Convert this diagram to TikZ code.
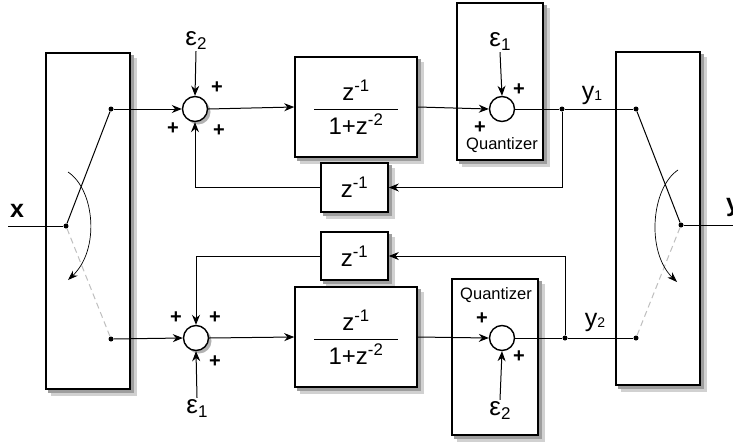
\documentclass[tikz,border=0pt]{standalone}
\usepackage{fontspec}
\setmainfont{Liberation Sans}
\usetikzlibrary{positioning, arrows.meta, calc, backgrounds}

\newcommand{\epsl}[1]{\fontsize{26}{26}\selectfont ε\raisebox{-4pt}{\fontsize{17}{17}\selectfont #1}}
\newcommand{\ysub}[1]{\fontsize{25}{25}\selectfont y\raisebox{-1pt}{\fontsize{14}{14}\selectfont #1}}

\tikzset{
  blockbox/.style={
    draw, line width=1.6pt, fill=white, inner sep=0pt
  },
  sumnode/.style={
    circle, draw, line width=1.4pt, fill=white,
    minimum size=25pt, inner sep=0pt
  },
  contact/.style={circle, fill, inner sep=0pt, minimum size=5pt},
  signal/.style={line width=1pt, -{Stealth[length=10pt, width=8pt]}},
  wire/.style={line width=1pt},
  offline/.style={line width=1pt, draw=black!25, dash pattern=on 6pt off 4pt},
  turn/.style={line width=0.7pt, -{Stealth[length=10pt, width=7pt]}},
  signlabel/.style={font=\fontsize{20}{20}\selectfont\bfseries, inner sep=0pt},
  ztext/.style={font=\fontsize{24}{28}\selectfont, align=center},
  qlabel/.style={font=\fontsize{16.5}{17}\selectfont, inner sep=0pt},
  eps/.style={inner sep=1pt},
}

\begin{document}
\begin{tikzpicture}[x=1pt, y=-1pt]
\useasboundingbox (0,0) rectangle (733,442);

% ---- switch boxes ----
\node[blockbox, minimum width=84pt, minimum height=336pt] (swL) at (88,221) {};
\node[blockbox, minimum width=84pt, minimum height=333pt] (swR) at (658,218.5) {};

% ---- quantizers ----
\node[blockbox, minimum width=86pt, minimum height=157pt] (Q1) at (500,81.5) {};
\node[blockbox, minimum width=86pt, minimum height=156pt] (Q2) at (495,357) {};

% ---- filters ----
\node[blockbox, ztext, minimum width=122pt, minimum height=100pt] (H1) at (356,107)
  {z\textsuperscript{-1}\\[-18.5pt]\rule{84pt}{1pt}\\[-3pt]1+z\textsuperscript{-2}};
\node[blockbox, ztext, minimum width=122pt, minimum height=100pt] (H2) at (356,337)
  {z\textsuperscript{-1}\\[-18.5pt]\rule{84pt}{1pt}\\[-3pt]1+z\textsuperscript{-2}};

% ---- delays ----
\node[blockbox, ztext, minimum width=67pt, minimum height=49pt] (D1) at (354.5,187.5) {z\textsuperscript{-1}};
\node[blockbox, ztext, minimum width=67pt, minimum height=48pt] (D2) at (354.5,256) {z\textsuperscript{-1}};

% ---- summers ----
\node[sumnode] (S1) at (195,109) {};
\node[sumnode] (S2) at (196,338) {};
\node[sumnode] (C1) at (502,109) {};
\node[sumnode] (C2) at (502,338) {};

\node[qlabel] (q1lbl) at (502,145) {Quantizer};
\node[qlabel] (q2lbl) at (496,295) {Quantizer};

% ---- contacts ----
\node[contact] (pL)  at (66,226) {};
\node[contact] (aL1) at (111,109) {};
\node[contact] (aL2) at (111,339) {};
\node[contact] (jn1) at (562,109) {};
\node[contact] (jn2) at (565,338) {};
\node[contact] (pR)  at (681,225) {};
\node[contact] (bR1) at (636,109) {};
\node[contact] (bR2) at (636,338) {};
\coordinate (xin)  at (8,226);
\coordinate (yout) at (740,225);

% ---- labels ----
\node[font=\fontsize{25}{25}\selectfont\bfseries, inner sep=0pt] (xlbl) at (17,211) {x};
\node[font=\fontsize{25}{25}\selectfont\bfseries, inner sep=0pt, anchor=west] (ylbl) at (726,207) {y};
\node[inner sep=0pt] (y1lbl) at (592,95) {\ysub{1}};
\node[inner sep=0pt] (y2lbl) at (595,322) {\ysub{2}};

\node[eps] (e2t) at (196,41) {\epsl{2}};
\node[eps] (e1t) at (500,42) {\epsl{1}};
\node[eps] (e1b) at (197,408) {\epsl{1}};
\node[eps] (e2b) at (500,410) {\epsl{2}};

\node[signlabel] (pS1a) at (217,88) {+};
\node[signlabel] (pS1b) at (173,129) {+};
\node[signlabel] (pS1c) at (219,131) {+};
\node[signlabel] (pC1a) at (519,90) {+};
\node[signlabel] (pC1b) at (480,128) {+};
\node[signlabel] (pS2a) at (176,318) {+};
\node[signlabel] (pS2b) at (215,318) {+};
\node[signlabel] (pS2c) at (215,362) {+};
\node[signlabel] (pC2a) at (482,319) {+};
\node[signlabel] (pC2b) at (519,357) {+};

% ---- left switch ----
\draw[wire] (xin) -- (pL);
\draw[wire] (pL) -- (aL1);
\draw[offline] (pL) -- (aL2);
\coordinate (tL0) at (68,172);
\coordinate (tL1) at (68,280);
\draw[turn] (tL0) .. controls (95,190) and (100,250) .. (tL1);

% ---- upper branch ----
\draw[signal] (aL1) -- (S1.west);
\draw[signal] (e2t.south) -- (S1.north);
\draw[signal] (S1.east) -- (H1.west);
\draw[signal] (H1.east) -- (C1.west);
\draw[signal] (e1t.south) -- (C1.north);
\draw[wire] (C1.east) -- (jn1) -- (bR1);
\draw[signal] (jn1) |- (D1.east);
\draw[signal] (D1.west) -| (S1.south);

% ---- lower branch ----
\draw[signal] (aL2) -- (S2.west);
\draw[signal] (e1b.north) -- (S2.south);
\draw[signal] (S2.east) -- (H2.west);
\draw[signal] (H2.east) -- (C2.west);
\draw[signal] (e2b.north) -- (C2.south);
\draw[wire] (C2.east) -- (jn2) -- (bR2);
\draw[signal] (jn2) |- (D2.east);
\draw[signal] (D2.west) -| (S2.north);

% ---- right switch ----
\draw[wire] (bR1) -- (pR);
\draw[offline] (pR) -- (bR2);
\draw[wire] (pR) -- (yout);
\coordinate (tR0) at (678,170);
\coordinate (tR1) at (677,282);
\draw[turn] (tR0) .. controls (651,188) and (646,252) .. (tR1);

% ---- shadows ----
\begin{pgfonlayer}{background}
  \fill[black!18] ($(swL.south west)+(6,6)$) rectangle ($(swL.north east)+(6,6)$);
  \fill[black!18] ($(swR.south west)+(6,6)$) rectangle ($(swR.north east)+(6,6)$);
  \fill[black!18] ($(Q1.south west)+(6,6)$) rectangle ($(Q1.north east)+(6,6)$);
  \fill[black!18] ($(Q2.south west)+(6,6)$) rectangle ($(Q2.north east)+(6,6)$);
  \fill[black!18] ($(H1.south west)+(6,6)$) rectangle ($(H1.north east)+(6,6)$);
  \fill[black!18] ($(H2.south west)+(6,6)$) rectangle ($(H2.north east)+(6,6)$);
  \fill[black!18] ($(D1.south west)+(6,6)$) rectangle ($(D1.north east)+(6,6)$);
  \fill[black!18] ($(D2.south west)+(6,6)$) rectangle ($(D2.north east)+(6,6)$);
  \fill[black!38] ($(swL.south west)+(3,3)$) rectangle ($(swL.north east)+(3,3)$);
  \fill[black!38] ($(swR.south west)+(3,3)$) rectangle ($(swR.north east)+(3,3)$);
  \fill[black!38] ($(Q1.south west)+(3,3)$) rectangle ($(Q1.north east)+(3,3)$);
  \fill[black!38] ($(Q2.south west)+(3,3)$) rectangle ($(Q2.north east)+(3,3)$);
  \fill[black!38] ($(H1.south west)+(3,3)$) rectangle ($(H1.north east)+(3,3)$);
  \fill[black!38] ($(H2.south west)+(3,3)$) rectangle ($(H2.north east)+(3,3)$);
  \fill[black!38] ($(D1.south west)+(3,3)$) rectangle ($(D1.north east)+(3,3)$);
  \fill[black!38] ($(D2.south west)+(3,3)$) rectangle ($(D2.north east)+(3,3)$);
  \fill[black!30] ($(S1.center)+(3,3)$) circle (12.5pt);
  \fill[black!30] ($(S2.center)+(3,3)$) circle (12.5pt);
  \fill[black!30] ($(C1.center)+(3,3)$) circle (12.5pt);
  \fill[black!30] ($(C2.center)+(3,3)$) circle (12.5pt);
\end{pgfonlayer}

\end{tikzpicture}
\end{document}
